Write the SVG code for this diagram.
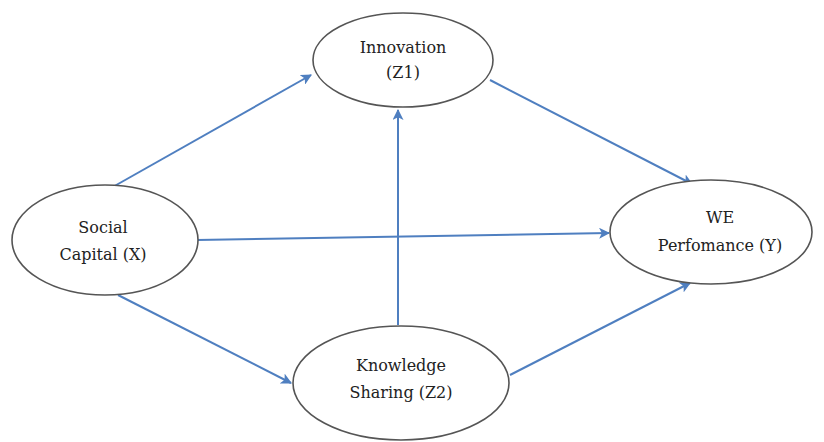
<svg xmlns="http://www.w3.org/2000/svg" width="824" height="442" viewBox="0 0 824 442">
<defs>
<marker id="ah" viewBox="0 0 10 10" refX="9" refY="5" markerWidth="5.5" markerHeight="5.5" orient="auto" markerUnits="strokeWidth">
<path d="M0,0 L10,5 L0,10 L2.5,5 z" fill="#4f7fc0"/>
</marker>
<style>
.n{fill:#fff;stroke:#555;stroke-width:1.6}
.t{font-family:"DejaVu Serif","Liberation Serif",serif;font-size:16px;fill:#222;text-anchor:middle}
.c{stroke:#4f7fc0;stroke-width:2;fill:none;marker-end:url(#ah)}
</style>
</defs>
<rect width="824" height="442" fill="#fff"/>
<g id="connectors">
<line class="c" x1="111" y1="188" x2="311" y2="75"/>
<line class="c" x1="490" y1="80" x2="692" y2="184"/>
<line class="c" x1="197" y1="240" x2="609" y2="233"/>
<line class="c" x1="118" y1="295" x2="291" y2="383"/>
<line class="c" x1="398" y1="325" x2="398" y2="110"/>
<line class="c" x1="510" y1="375" x2="690" y2="283"/>
</g>
<g id="innovation">
<ellipse class="n" cx="403" cy="60" rx="90" ry="47"/>
<text class="t" x="403" y="53">Innovation</text>
<text class="t" x="403" y="78">(Z1)</text>
</g>
<g id="social">
<ellipse class="n" cx="105" cy="240" rx="93" ry="55"/>
<text class="t" x="103" y="233">Social</text>
<text class="t" x="103" y="260">Capital (X)</text>
</g>
<g id="we">
<ellipse class="n" cx="711" cy="232" rx="101" ry="52"/>
<text class="t" x="720" y="223">WE</text>
<text class="t" x="720" y="251">Perfomance (Y)</text>
</g>
<g id="knowledge">
<ellipse class="n" cx="401" cy="383" rx="108" ry="57"/>
<text class="t" x="401" y="371">Knowledge</text>
<text class="t" x="401" y="398">Sharing (Z2)</text>
</g>
</svg>
